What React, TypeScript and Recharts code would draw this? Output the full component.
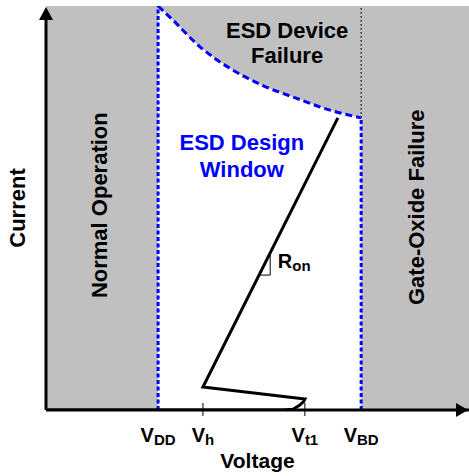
import { ComposedChart, Line, Area, XAxis, YAxis, ReferenceArea, ReferenceLine, ReferenceDot, Label } from 'recharts'

// voltage ticks (arbitrary units, axis runs 0..10)
const tickValues = [2.65, 3.71, 6.12, 7.45]
const tickSubs = ['DD', 'h', 't1', 'BD']
const tickMarked = [false, true, true, false]
const [VDD, , , VBD] = tickValues

// ESD device failure boundary (top of the design window)
const failX = [2.65, 3.0, 3.64, 4.33, 5.11, 5.91, 6.69, 7.45]
const failY = [10, 9.65, 8.99, 8.47, 8.04, 7.72, 7.43, 7.23]

// snapback I-V curve
const ivX = [0, 5.6, 5.84, 6.0, 6.09, 6.12, 3.71, 6.9]
const ivY = [0, 0, 0.02, 0.12, 0.21, 0.27, 0.57, 7.23]

// little slope triangle for Ron
const ronX = [5.04, 5.3, 5.3]
const ronY = [3.34, 3.34, 3.89]

const FONT = '"Liberation Sans", Arial, sans-serif'
const BLUE = '#0000ff'
const GRAY = '#c0c0c0'

const failData = failX.map((x, i) => ({ x, y: failY[i], band: [failY[i], 10] }))
const ivData = ivX.map((x, i) => ({ x, y: ivY[i] }))
const ronData = ronX.map((x, i) => ({ x, y: ronY[i] }))

function VTick(props: any) {
  const { x, y, payload } = props
  const i = tickValues.indexOf(payload.value)
  return (
    <g>
      {tickMarked[i] && <line x1={x} x2={x} y1={y - 15} y2={y - 2} stroke="#000" strokeWidth={1} />}
      <text x={x} y={y + 24} textAnchor="middle" fontFamily={FONT} fontWeight="bold" fontSize={20} fill="#000">
        <tspan>V</tspan>
        <tspan fontSize={15} dy={3}>{tickSubs[i]}</tspan>
      </text>
    </g>
  )
}

const textShape = (lines: string[], opts: { color?: string; rotate?: boolean; gap?: number; size?: number }) => (p: any) => (
  <text
    x={p.cx}
    y={p.cy}
    textAnchor="middle"
    fontFamily={FONT}
    fontWeight="bold"
    fontSize={opts.size ?? 22}
    fill={opts.color ?? '#000'}
    transform={opts.rotate ? `rotate(-90, ${p.cx}, ${p.cy})` : undefined}
  >
    {lines.map((l, k) => (
      <tspan key={k} x={p.cx} dy={k === 0 ? 0 : opts.gap ?? 25}>{l}</tspan>
    ))}
  </text>
)

export default function App() {
  return (
    <div style={{ position: 'absolute', left: 0, top: 0, background: '#fff' }}>
      <ComposedChart width={469} height={476} margin={{ top: 6, right: 0, left: 0, bottom: 26 }}>
        <XAxis
          type="number"
          dataKey="x"
          domain={[0, 10]}
          ticks={tickValues}
          tick={<VTick />}
          tickLine={false}
          axisLine={false}
          height={40}
          allowDataOverflow
        >
          <Label
            content={({ viewBox }: any) => (
              <text x={viewBox.x + viewBox.width / 2} y={viewBox.y + 58} textAnchor="middle" fontFamily={FONT} fontWeight="bold" fontSize={21}>
                Voltage
              </text>
            )}
          />
        </XAxis>
        <YAxis
          type="number"
          domain={[0, 10]}
          width={46}
          tick={false}
          tickLine={false}
          axisLine={false}
          allowDataOverflow
        >
          <Label
            content={({ viewBox }: any) => {
              const cx = viewBox.x + 25
              const cy = viewBox.y + viewBox.height / 2
              return (
                <text x={cx} y={cy} textAnchor="middle" fontFamily={FONT} fontWeight="bold" fontSize={22} transform={`rotate(-90, ${cx}, ${cy})`}>
                  Current
                </text>
              )
            }}
          />
        </YAxis>

        {/* failure regions */}
        <ReferenceArea x1={0} x2={VDD} y1={0} y2={10} fill={GRAY} fillOpacity={1} stroke="none" />
        <ReferenceArea x1={VBD} x2={10} y1={0} y2={10} fill={GRAY} fillOpacity={1} stroke="none" />
        <Area data={failData} dataKey="band" type="monotone" fill={GRAY} fillOpacity={1} stroke="none" isAnimationActive={false} />

        <ReferenceLine segment={[{ x: VBD, y: 7.23 }, { x: VBD, y: 10 }]} stroke="#000" strokeWidth={1} strokeDasharray="2 2" />
        <ReferenceLine x={VDD} stroke={BLUE} strokeWidth={3} strokeDasharray="4 2.5" />
        <ReferenceLine segment={[{ x: VBD, y: 0 }, { x: VBD, y: 7.23 }]} stroke={BLUE} strokeWidth={3} strokeDasharray="4 2.5" />
        <Line data={failData} dataKey="y" type="monotone" stroke={BLUE} strokeWidth={3} strokeDasharray="7 4" dot={false} isAnimationActive={false} />

        <Line data={ivData} dataKey="y" type="linear" stroke="#000" strokeWidth={3} dot={false} isAnimationActive={false} />
        <Line data={ronData} dataKey="y" type="linear" stroke="#000" strokeWidth={1} dot={false} isAnimationActive={false} />

        {/* axes with arrow heads */}
        <ReferenceLine y={0} stroke="#000" strokeWidth={3} />
        <ReferenceLine segment={[{ x: 0, y: 0 }, { x: 0, y: 9.8 }]} stroke="#000" strokeWidth={3} />
        <ReferenceDot x={0} y={10} r={0} ifOverflow="visible" shape={(p: any) => (
          <polygon points={`${p.cx},${p.cy + 1} ${p.cx - 7},${p.cy + 14} ${p.cx + 7},${p.cy + 14}`} fill="#000" />
        )} />
        <ReferenceDot x={10} y={0} r={0} ifOverflow="visible" shape={(p: any) => (
          <polygon points={`${p.cx - 1},${p.cy} ${p.cx - 13},${p.cy - 7} ${p.cx - 13},${p.cy + 7}`} fill="#000" />
        )} />

        {/* region labels */}
        <ReferenceDot x={1.44} y={5.07} r={0} shape={textShape(['Normal Operation'], { rotate: true })} />
        <ReferenceDot x={8.94} y={5.02} r={0} shape={textShape(['Gate-Oxide Failure'], { rotate: true })} />
        <ReferenceDot x={5.7} y={9.21} r={0} shape={textShape(['ESD Device', 'Failure'], {})} />
        <ReferenceDot x={4.63} y={6.44} r={0} shape={textShape(['ESD Design', 'Window'], { color: BLUE, gap: 27 })} />
        <ReferenceDot x={5.48} y={3.51} r={0} shape={(p: any) => (
          <text x={p.cx} y={p.cy} fontFamily={FONT} fontWeight="bold" fontSize={20}>
            <tspan>R</tspan>
            <tspan fontSize={15} dy={3}>on</tspan>
          </text>
        )} />
      </ComposedChart>
    </div>
  )
}
